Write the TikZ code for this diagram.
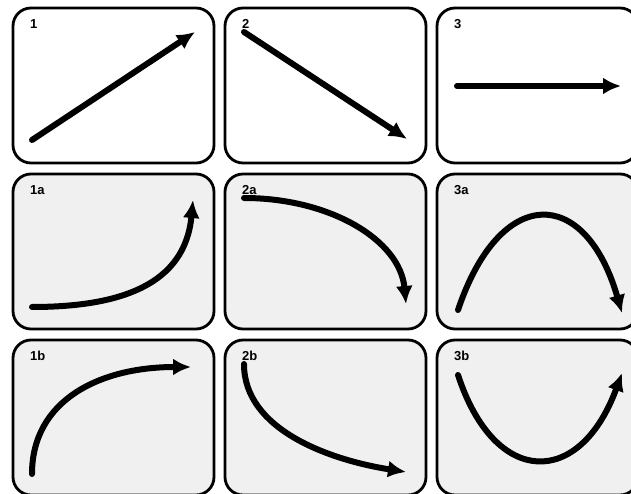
\documentclass[tikz,border=0pt]{standalone}
\usepackage{fontspec}
\setmainfont{Liberation Sans}
\usetikzlibrary{arrows.meta, positioning}

\begin{document}
\begin{tikzpicture}[x=1pt, y=-1pt,
    panel/.style={draw, line width=2.8pt, rounded corners=18pt},
    tag/.style={anchor=west, inner sep=0pt, font=\bfseries\fontsize{13}{14}\selectfont},
    curve/.style={line width=6pt, line cap=round, -{Latex[length=18pt, width=17pt]}}]
    % ==========================================
    % GEOMETRIA DEI RIQUADRI
    % ==========================================
    \def\w{201}   % larghezza riquadro
    \def\h{155}   % altezza riquadro
    \def\xA{13}  \def\xB{225}  \def\xC{437}
    \def\yA{8}   \def\yB{174}  \def\yC{340}
    \definecolor{pale}{HTML}{F0F0F0}

    \useasboundingbox (0,0) rectangle (631,494);

    % ==========================================
    % MACRO PER UN RIQUADRO
    % #1 = x sinistra, #2 = y alto, #3 = colore, #4 = nome, #5 = etichetta
    % ==========================================
    \newcommand{\drawpanel}[5]{
        \draw [panel, fill=#3] (#1, #2) rectangle (#1+\w, #2+\h);
        \node [tag] (#4) at (#1+17, #2+16) {#5};
    }

    % ==========================================
    % RIQUADRI
    % ==========================================
    \drawpanel{\xA}{\yA}{white}{t1}{1}
    \drawpanel{\xB}{\yA}{white}{t2}{2}
    \drawpanel{\xC}{\yA}{white}{t3}{3}
    \drawpanel{\xA}{\yB}{pale}{t1a}{1a}
    \drawpanel{\xB}{\yB}{pale}{t2a}{2a}
    \drawpanel{\xC}{\yB}{pale}{t3a}{3a}
    \drawpanel{\xA}{\yC}{pale}{t1b}{1b}
    \drawpanel{\xB}{\yC}{pale}{t2b}{2b}
    \drawpanel{\xC}{\yC}{pale}{t3b}{3b}

    % ==========================================
    % FRECCE
    % ==========================================
    % riga 1: rette
    \draw [curve] (32,140) -- (195,32);
    \draw [curve] (244,32) -- (407,139);
    \draw [curve] (457,86) -- (621,86);

    % riga 2
    \draw [curve] (32,307) .. controls (120,307) and (185,285) .. (193,200);
    \draw [curve] (244,198) .. controls (330,198) and (400,240) .. (406,304);
    \draw [curve] (458,310) .. controls (500,185) and (585,185) .. (622,313);

    % riga 3
    \draw [curve] (32,474) .. controls (32,400) and (100,367) .. (191,367);
    \draw [curve] (244,364) .. controls (244,430) and (330,460) .. (406,472);
    \draw [curve] (458,375) .. controls (495,488) and (580,488) .. (622,373);
\end{tikzpicture}
\end{document}
